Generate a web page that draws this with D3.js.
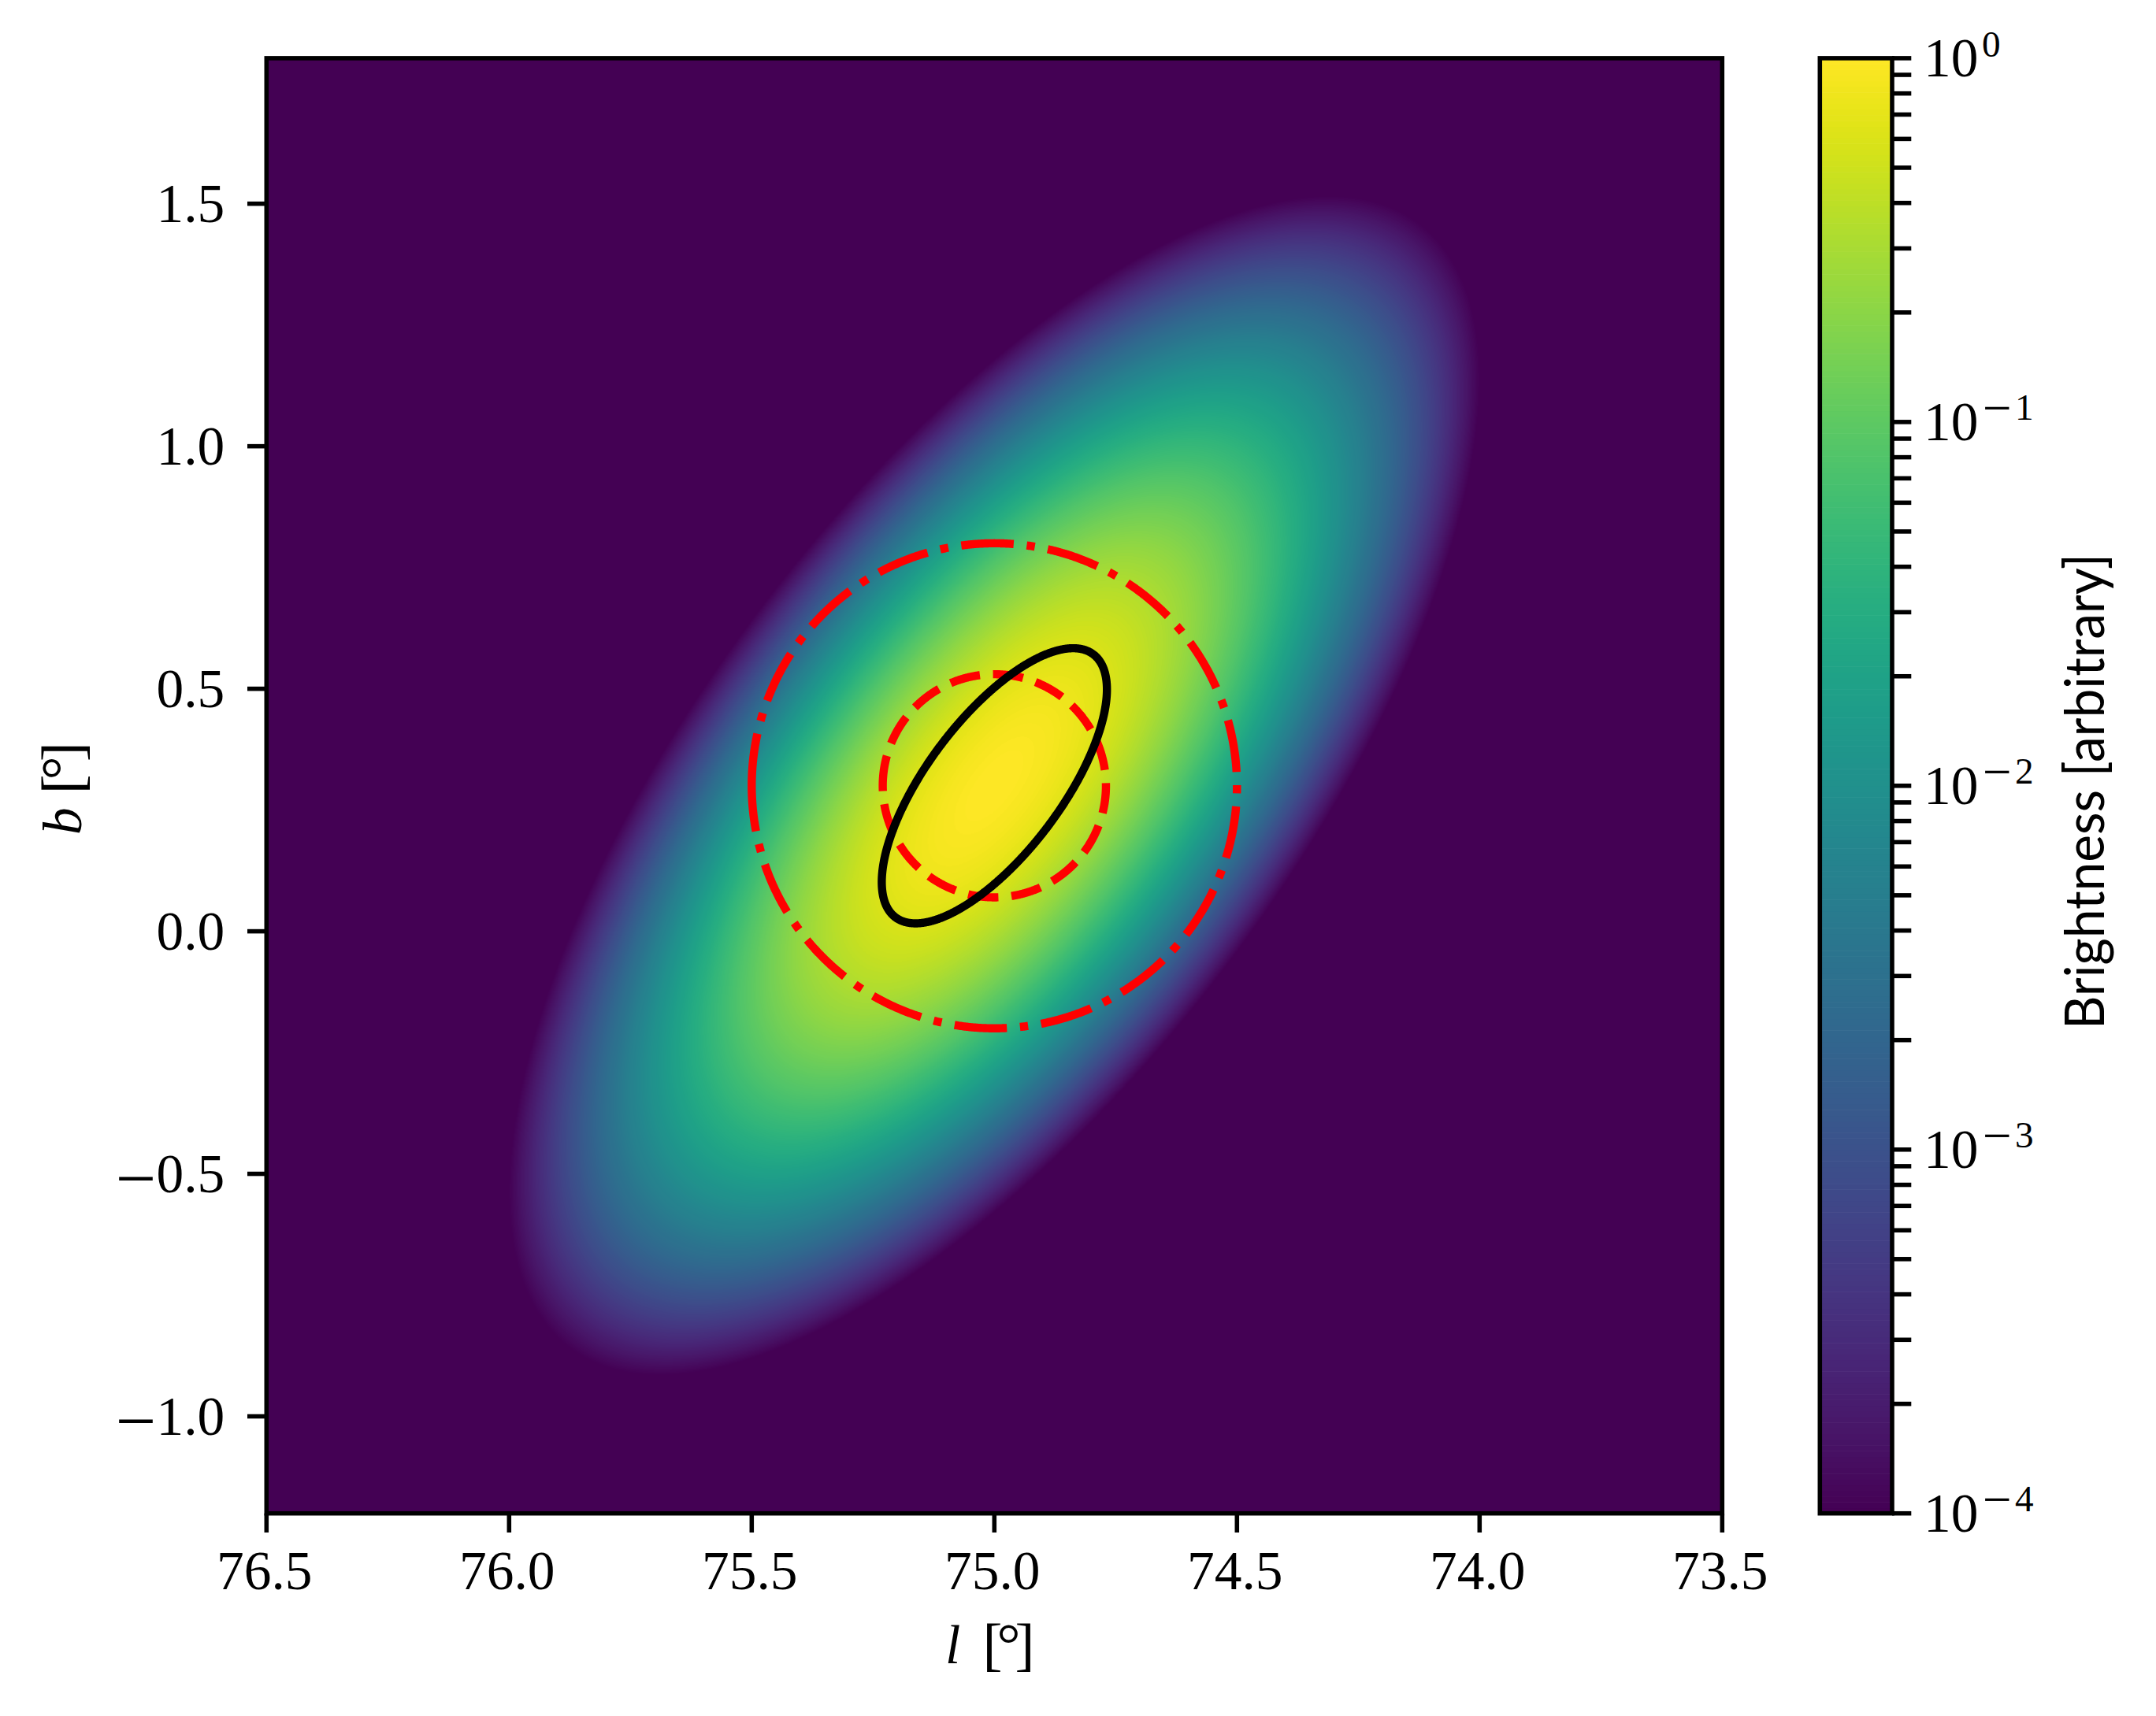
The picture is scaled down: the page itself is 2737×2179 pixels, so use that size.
<!DOCTYPE html>
<html>
<head>
<meta charset="utf-8">
<script src="https://cdn.jsdelivr.net/npm/d3@7"></script>
<style>
html,body{margin:0;padding:0;background:#fff}
svg{display:block}
</style>
</head>
<body>
<svg id="chart" width="2737" height="2179" xmlns="http://www.w3.org/2000/svg"></svg>
<script>
// ---- data ----
const xDomain = [76.5, 73.5];
const yDomain = [-1.2, 1.8];
const xTicks = [76.5, 76.0, 75.5, 75.0, 74.5, 74.0, 73.5];
const yTicks = [-1.0, -0.5, 0.0, 0.5, 1.0, 1.5];
const cbarDomain = [1e-4, 1];
const cbarMajorTicks = [1e-4, 1e-3, 1e-2, 1e-1, 1];
const cbarMajorExponents = ["4", "3", "2", "1", "0"];
const cbarMinorMultiples = [2, 3, 4, 5, 6, 7, 8, 9];

// black ellipse: centre and half-widths (degrees), l-b correlation
const sourceCentre = [75.0, 0.30];
const sourceSigma = [0.232, 0.2836];
const sourceRho = -0.70;
// brightness map: same centre, slightly different shape read from its outer edge
const imageSigma = [0.2334, 0.2836];
const imageRho = -0.69;
// brightness along the ellipse, by elliptical radius
const isophoteRadius = [0, 0.25, 0.5, 0.75, 1, 1.25, 1.5, 1.75, 2, 2.25, 2.5, 2.75, 3, 3.25, 3.5, 3.75, 4, 4.25, 4.5];
const isophoteLog10  = [0, -0.014, -0.054, -0.122, -0.217, -0.339, -0.489, -0.665, -0.869, -1.099, -1.357, -1.642, -1.954, -2.294, -2.660, -3.054, -3.474, -3.922, -4.397];

// red reference circles: radius in degrees
const circleCentre = [75.0, 0.30];
const circleRadii = [0.23, 0.5];

// ---- layout ----
const W = 2737, H = 2179;
const plot = {left: 338.3, right: 2186.3, top: 73.9, bottom: 1921.7};
const cbar = {left: 2310.3, right: 2402.0, top: 73.9, bottom: 1921.7};
const dpi = 500, pt = dpi / 72;
const spineW = 0.8 * pt, tickLen = 3.5 * pt, lineW = 1.5 * pt;
const fs = 10 * pt;
const serif = "'Liberation Serif', serif";

const svg = d3.select("#chart");
svg.append("rect").attr("width", W).attr("height", H).attr("fill", "#fff");

const x = d3.scaleLinear().domain(xDomain).range([plot.left, plot.right]);
const y = d3.scaleLinear().domain(yDomain).range([plot.bottom, plot.top]);
const colour = d3.scaleSequentialLog(d3.interpolateViridis).domain(cbarDomain).clamp(true);
const profile = d3.scaleLinear().domain(isophoteRadius).range(isophoteLog10);
const cb = d3.scaleLog().domain(cbarDomain).range([cbar.bottom, cbar.top]);

// ---- heat map ----
const pw = Math.round(plot.right - plot.left), ph = Math.round(plot.bottom - plot.top);
const cv = document.createElement("canvas");
cv.width = pw; cv.height = ph;
const ctx = cv.getContext("2d");
const img = ctx.createImageData(pw, ph);
const [l0, b0] = sourceCentre;
let k = 0;
for (let j = 0; j < ph; j++) {
  const v = (y.invert(plot.top + j + 0.5) - b0) / imageSigma[1];
  for (let i = 0; i < pw; i++) {
    const u = (x.invert(plot.left + i + 0.5) - l0) / imageSigma[0];
    const r = Math.sqrt((u * u - 2 * imageRho * u * v + v * v) / (1 - imageRho * imageRho));
    const val = r >= 4.5 ? 1e-4 : Math.pow(10, profile(r));
    const c = d3.rgb(colour(val));
    img.data[k++] = c.r; img.data[k++] = c.g; img.data[k++] = c.b; img.data[k++] = 255;
  }
}
ctx.putImageData(img, 0, 0);
svg.append("image")
  .attr("x", plot.left).attr("y", plot.top)
  .attr("width", plot.right - plot.left).attr("height", plot.bottom - plot.top)
  .attr("preserveAspectRatio", "none")
  .attr("href", cv.toDataURL("image/png"));

// ---- circles and ellipse ----
const line = d3.line().x(d => x(d[0])).y(d => y(d[1]));
const angles = d3.range(0, 1441).map(i => i / 1440 * 2 * Math.PI);
const circlePts = r => angles.map(t => [circleCentre[0] + r * Math.cos(t), circleCentre[1] + r * Math.sin(t)]);
const dashes = [
  [3.7 * lineW, 1.6 * lineW].join(","),
  [6.4 * lineW, 1.6 * lineW, 1 * lineW, 1.6 * lineW].join(",")
];
circleRadii.forEach((r, i) => {
  svg.append("path").attr("d", line(circlePts(r)))
    .attr("fill", "none").attr("stroke", "#ff0000")
    .attr("stroke-width", lineW).attr("stroke-dasharray", dashes[i]);
});
const ellipsePts = angles.map(t => [
  l0 + sourceSigma[0] * Math.cos(t),
  b0 + sourceSigma[1] * (sourceRho * Math.cos(t) + Math.sqrt(1 - sourceRho * sourceRho) * Math.sin(t))
]);
svg.append("path").attr("d", line(ellipsePts))
  .attr("fill", "none").attr("stroke", "#000").attr("stroke-width", lineW);

// ---- main axes ----
const fmt = d => Math.abs(d).toFixed(1);
const gx = svg.append("g").attr("transform", `translate(0,${plot.bottom})`)
  .call(d3.axisBottom(x).tickValues(xTicks).tickSize(tickLen).offset(0).tickFormat(fmt));
gx.select(".domain").remove();
gx.selectAll("line").attr("stroke", "#000").attr("stroke-width", spineW);
gx.selectAll("text").attr("x", -2.5).attr("y", 96.3).attr("dy", 0)
  .attr("font-family", serif).attr("font-size", fs).attr("fill", "#000");

const gy = svg.append("g").attr("transform", `translate(${plot.left},0)`)
  .call(d3.axisLeft(y).tickValues(yTicks).tickSize(tickLen).offset(0).tickFormat(() => ""));
gy.select(".domain").remove();
gy.selectAll("line").attr("stroke", "#000").attr("stroke-width", spineW);
gy.selectAll("text").attr("x", -53).attr("y", 23.3).attr("dy", 0)
  .attr("text-anchor", "end").attr("font-family", serif).attr("font-size", fs).attr("fill", "#000")
  .each(function (d) {
    const t = d3.select(this);
    if (d < 0) {
      t.append("tspan").attr("font-size", fs * 1.32).attr("dy", 13).text("\u2212");
      t.append("tspan").attr("dy", -13).text(fmt(d));
    } else {
      t.append("tspan").text(fmt(d));
    }
  });

svg.append("rect")
  .attr("x", plot.left).attr("y", plot.top)
  .attr("width", plot.right - plot.left).attr("height", plot.bottom - plot.top)
  .attr("fill", "none").attr("stroke", "#000").attr("stroke-width", spineW);

// ---- axis titles ----
function mathTitle(transform, letter, unitX) {
  const t = svg.append("text").attr("transform", transform)
    .attr("font-family", serif).attr("font-size", fs).attr("fill", "#000");
  t.append("tspan").attr("x", 0).attr("y", 0).attr("font-style", "italic").text(letter);
  t.append("tspan").attr("x", unitX).attr("y", 1).attr("font-size", 75)
    .attr("letter-spacing", -6.9).text("[\u00B0]");
}
mathTitle("translate(1200,2112)", "l", 47.4);
mathTitle("translate(103,1060) rotate(-90)", "b", 51.7);

// ---- colour bar ----
const bands = d3.range(256);
const bandEdge = i => cb(Math.pow(10, -4 + 4 * i / 256));
svg.append("g").selectAll("rect").data(bands).join("rect")
  .attr("x", cbar.left).attr("width", cbar.right - cbar.left)
  .attr("y", d => bandEdge(d + 1))
  .attr("height", d => bandEdge(d) - bandEdge(d + 1) + 0.6)
  .attr("fill", d => d3.interpolateViridis(d / 255));

const cbarMinor = d3.merge(cbarMajorTicks.slice(0, 4).map(m => cbarMinorMultiples.map(f => m * f)));
const gc = svg.append("g").attr("transform", `translate(${cbar.right},0)`)
  .call(d3.axisRight(cb).tickValues(cbarMajorTicks.concat(cbarMinor)).tickSize(tickLen).offset(0).tickFormat(() => ""));
gc.select(".domain").remove();
gc.selectAll("line").attr("stroke", "#000").attr("stroke-width", spineW);
gc.selectAll("text").remove();

svg.append("rect")
  .attr("x", cbar.left).attr("y", cbar.top)
  .attr("width", cbar.right - cbar.left).attr("height", cbar.bottom - cbar.top)
  .attr("fill", "none").attr("stroke", "#000").attr("stroke-width", spineW);

const supFs = fs * 0.68, minusFs = fs * 0.94;
const gl = svg.append("g").attr("font-family", serif).attr("font-size", fs).attr("fill", "#000");
cbarMajorTicks.forEach((v, i) => {
  const exp = cbarMajorExponents[i];
  const t = gl.append("text").attr("x", 2442).attr("y", cb(v) + 23.3);
  t.append("tspan").text("10");
  if (exp === "0") {
    t.append("tspan").attr("x", 2516).attr("dy", -25).attr("font-size", supFs).text(exp);
  } else {
    t.append("tspan").attr("x", 2517).attr("dy", -19).attr("font-size", minusFs).text("\u2212");
    t.append("tspan").attr("x", 2558).attr("dy", -7).attr("font-size", supFs).text(exp);
  }
});

svg.append("text")
  .attr("transform", "translate(2671,1307) rotate(-90)")
  .attr("font-family", "Lato, 'Liberation Sans', sans-serif").attr("font-size", fs)
  .attr("fill", "#000")
  .attr("textLength", 604).attr("lengthAdjust", "spacingAndGlyphs")
  .text("Brightness [arbitrary]");
</script>
</body>
</html>
